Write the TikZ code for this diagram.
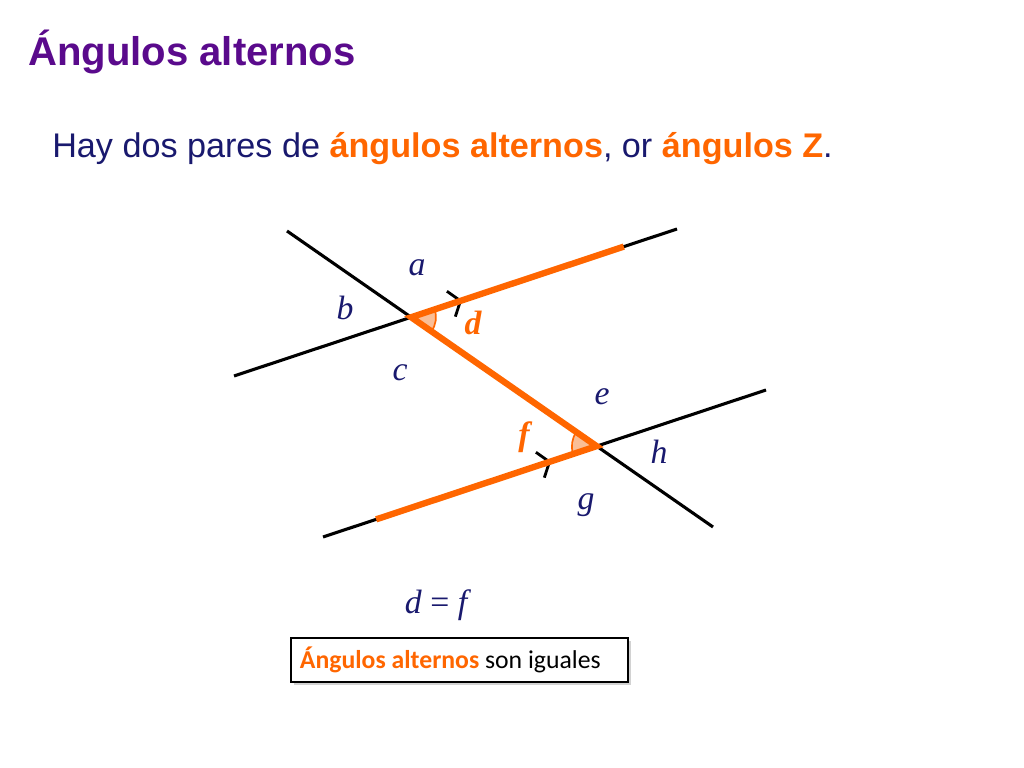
\documentclass[tikz,border=0pt]{standalone}
\usepackage{fontspec}
\setmainfont{Liberation Serif}
\setsansfont{Liberation Sans}
\newfontfamily\boxfont{Carlito}
\usetikzlibrary{arrows.meta,angles,calc,decorations.markings,shadows}
\definecolor{titlepurple}{RGB}{90,10,140}
\definecolor{navy}{RGB}{25,25,110}
\definecolor{zorange}{RGB}{255,102,0}
\definecolor{lightorange}{RGB}{250,190,150}
\tikzstyle{blackline}=[line width=2.2pt,black]
\tikzstyle{orangeline}=[line width=4.5pt,zorange]
\tikzstyle{parallel}=[postaction={decorate},decoration={markings,
mark=at position 0.515 with {\arrow{Straight Barb[length=7pt,width=19pt,line width=2pt]}}}]
\tikzstyle{anglemark}=[draw=zorange,fill=lightorange,line width=1.2pt,angle radius=0.62cm]
\tikzstyle{lbl}=[navy,inner sep=0pt,font=\fontsize{24}{28}\selectfont\itshape]
\tikzstyle{olbl}=[zorange,inner sep=0pt,font=\fontsize{24}{28}\selectfont\bfseries\itshape]

\begin{document}
\begin{tikzpicture}[x=0.025cm,y=0.025cm]
            \useasboundingbox (0,0) rectangle (1024,768);

            % TEXT PART

            \node[anchor=base west,inner sep=0pt,titlepurple,font=\fontsize{28.5}{32}\selectfont\sffamily\bfseries] (title) at (28,702) {Ángulos alternos};
            \node[anchor=base west,inner sep=0pt,navy,font=\fontsize{24.3}{28}\selectfont\sffamily] (intro) at (52,610)
                {Hay dos pares de \textcolor{zorange}{\bfseries ángulos alternos}, or \textcolor{zorange}{\bfseries ángulos Z}.};

            % LINES PART

            \coordinate (l1s) at (234,392);
            \coordinate (l1e) at (677,539);
            \coordinate (l2s) at (323,231);
            \coordinate (l2e) at (766,378);
            \coordinate (t1) at (287,537);
            \coordinate (t2) at (713,241);
            \coordinate (p) at (intersection of l1s--l1e and t1--t2);
            \coordinate (q) at (intersection of l2s--l2e and t1--t2);
            \coordinate (o1) at ($(l1s)!0.88!(l1e)$);
            \coordinate (o2) at ($(l2s)!0.12!(l2e)$);

            \draw[blackline,parallel] (l1s) -- (l1e);
            \draw[blackline,parallel] (l2s) -- (l2e);
            \draw[blackline] (t1) -- (t2);

            \pic[anglemark] {angle = t2--p--l1e};
            \pic[anglemark] {angle = p--q--l2s};

            \draw[orangeline] (o2) -- (q) -- (p) -- (o1);

            % LABELS PART

            \node[lbl] (a) at (417,500) {a};
            \node[lbl] (b) at (345,460) {b};
            \node[lbl] (c) at (400,395) {c};
            \node[olbl] (d) at (473,445) {d};
            \node[lbl] (e) at (602,371) {e};
            \node[olbl] (f) at (524,331) {f};
            \node[lbl] (g) at (586,263) {g};
            \node[lbl] (h) at (659,316) {h};

            \node[lbl,font=\fontsize{24}{28}\selectfont] (eq) at (438,163) {\textit{d} = \textit{f}};
            \node[draw,line width=2pt,fill=white,inner xsep=0.225cm,minimum height=1.1cm,
                drop shadow={shadow xshift=2pt,shadow yshift=-2pt,fill=black!35},
                font=\fontsize{18.3}{22}\selectfont\boxfont] (rule) at (459.5,108)
                {\makebox[7.975cm][l]{\textcolor{zorange}{\bfseries Ángulos alternos} son iguales}};

\end{tikzpicture}
\end{document}
